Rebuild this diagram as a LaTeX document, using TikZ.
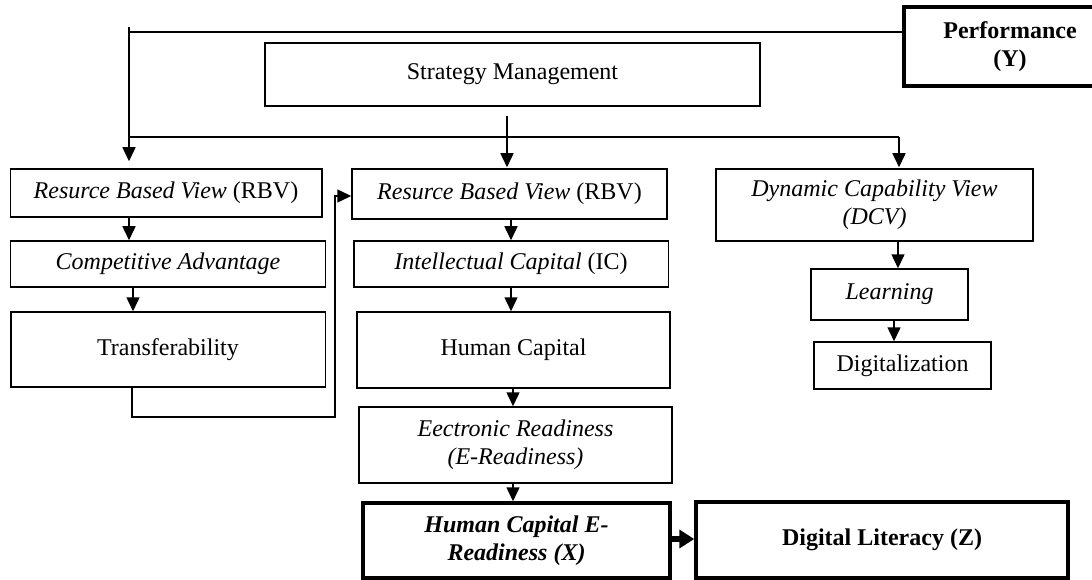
\documentclass[tikz,border=0pt]{standalone}
\usepackage{fontspec}
\setmainfont{Liberation Serif}
\usetikzlibrary{arrows.meta}
\begin{document}
\begin{tikzpicture}[x=1pt,y=-1pt,
  every node/.style={font=\fontsize{24}{28}\selectfont},
  box/.style={draw,line width=1.5pt,inner sep=0pt,align=center,anchor=center},
  thickbox/.style={box,line width=3.5pt},
  ln/.style={line width=1.5pt},
  arr/.style={line width=1.5pt,-{Triangle[width=13pt,length=14pt]}},
  bigarr/.style={line width=5.5pt,-{Triangle[width=18pt,length=15pt]}}]
\useasboundingbox (0,0) rectangle (1092,580);

\node[box,minimum width=495pt,minimum height=63pt] (strat) at (512.5,74.5) {Strategy Management};
\node[thickbox,line width=4pt,minimum width=212pt,minimum height=79pt] (perf) at (1010,46.5) {\textbf{Performance}\\\textbf{(Y)}};

\node[box,minimum width=311.5pt,minimum height=48pt] (rbv1) at (166,193) {\textit{Resurce Based View} (RBV)};
\node[box,minimum width=315pt,minimum height=46pt] (comp) at (168,264) {\textit{Competitive Advantage}};
\node[box,minimum width=314.5pt,minimum height=75pt] (trans) at (168,349.5) {Transferability};

\node[box,minimum width=315pt,minimum height=50pt] (rbv2) at (509.5,194) {\textit{Resurce Based View} (RBV)};
\node[box,minimum width=314.5pt,minimum height=46pt] (ic) at (511,264) {\textit{Intellectual Capital} (IC)};
\node[box,minimum width=313pt,minimum height=76pt] (hc) at (513.5,350) {Human Capital};
\node[box,minimum width=313pt,minimum height=76pt] (er) at (515.5,445) {\textit{Eectronic Readiness}\\\textit{(E-Readiness)}};
\node[thickbox,minimum width=307pt,minimum height=75pt] (hcer) at (516.5,540.5) {\textbf{\textit{Human Capital E-}}\\\textbf{\textit{Readiness (X)}}};
\node[thickbox,minimum width=372pt,minimum height=76pt] (dl) at (882,540) {\textbf{Digital Literacy (Z)}};

\node[box,minimum width=317pt,minimum height=72pt] (dcv) at (874.5,205) {\textit{Dynamic Capability View}\\\textit{(DCV)}};
\node[box,minimum width=157pt,minimum height=51pt] (learn) at (889.5,294.5) {\textit{Learning}};
\node[box,minimum width=177pt,minimum height=47pt] (digi) at (902.5,365.5) {Digitalization};

% top feedback line from Performance
\coordinate (vs) at (129,27);
\coordinate (tl) at (129,32);
\draw[ln] (tl) -- (tl -| perf.west);
\draw[arr,shorten >=7pt] (vs) -- (vs |- rbv1.north);

% strategy management arrow and distribution line
\coordinate (sa) at (507,116);
\draw[arr,shorten >=1pt] (sa) -- (sa |- rbv2.north);
\coordinate (ml) at (129,137);
\coordinate (mr) at (899,137);
\draw[ln] (ml) -- (mr);
\draw[arr,shorten >=1pt] (mr) -- (mr |- dcv.north);

% left column
\coordinate (c1) at (129,0);
\coordinate (c2) at (133,0);
\draw[arr] (rbv1.south -| c1) -- (comp.north -| c1);
\draw[arr] (comp.south -| c2) -- (trans.north -| c2);
\coordinate (r1) at (132,417);
\coordinate (r2) at (335,417);
\coordinate (r3) at (335,196);
\draw[arr] (trans.south -| r1) -- (r1) -- (r2) -- (r3) -- (r3 -| rbv2.west);

% middle column
\coordinate (m1) at (511,0);
\coordinate (m2) at (513,0);
\draw[arr] (rbv2.south -| m1) -- (ic.north -| m1);
\draw[arr] (ic.south -| m1) -- (hc.north -| m1);
\draw[arr] (hc.south -| m2) -- (er.north -| m2);
\draw[arr] (er.south -| m2) -- (hcer.north -| m2);
\draw[bigarr] ([yshift=1.5pt]hcer.east) -- ([yshift=1.5pt]hcer.east -| dl.west);

% right column
\coordinate (d1) at (898,0);
\coordinate (d2) at (894,0);
\draw[arr] (dcv.south -| d1) -- (learn.north -| d1);
\draw[arr] (learn.south -| d2) -- (digi.north -| d2);
\end{tikzpicture}
\end{document}
